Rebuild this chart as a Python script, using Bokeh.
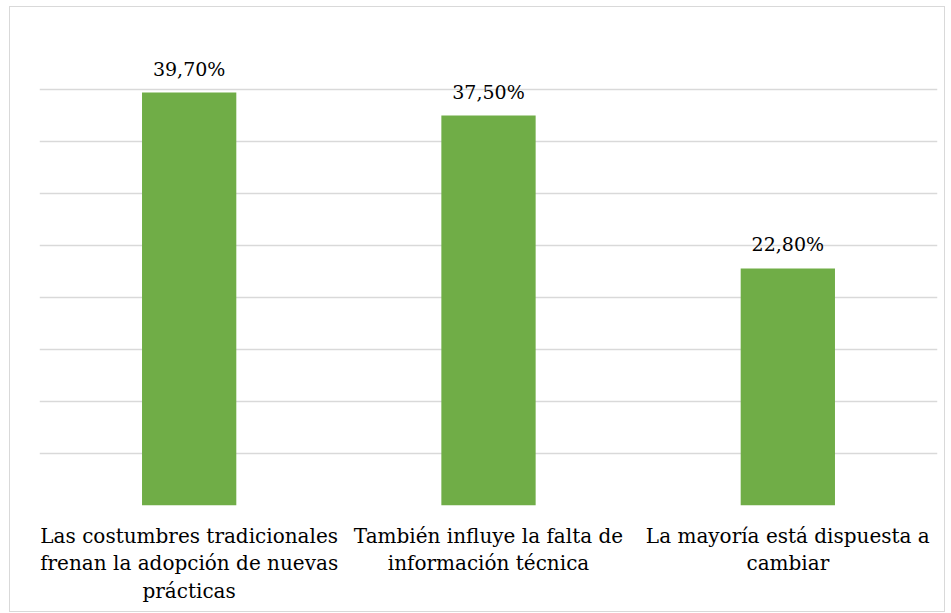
from bokeh.plotting import figure
from bokeh.models import ColumnDataSource, FixedTicker, Range1d, LabelSet
from bokeh.core.properties import value
from bokeh.embed import file_html
from bokeh.resources import INLINE

categories = [
    "Las costumbres tradicionales\nfrenan la adopción de nuevas\nprácticas",
    "También influye la falta de\ninformación técnica",
    "La mayoría está dispuesta a\ncambiar",
]
values = [39.7, 37.5, 22.8]
labels = ["39,70%", "37,50%", "22,80%"]
y_ticks = [0, 5, 10, 15, 20, 25, 30, 35, 40, 45]

FONT = "DejaVu Serif"

src = ColumnDataSource(dict(cat=categories, val=values, lab=labels))

p = figure(x_range=categories, y_range=Range1d(0, 45), width=936, height=606,
           output_backend="svg", toolbar_location=None,
           min_border_left=29, min_border_right=9, min_border_top=30, min_border_bottom=108)
p.styles = {"border": "1px solid #d9d9d9", "margin-left": "9px", "margin-top": "6px"}
p.outline_line_color = None
p.vbar(x="cat", top="val", width=0.315, source=src, fill_color="#70AD47", line_color=None)

p.add_layout(LabelSet(x="cat", y="val", text="lab", source=src, text_align="center",
                      text_baseline="bottom", y_offset=13, text_font=value(FONT),
                      text_font_size="19px", text_color="#000000"))

p.yaxis.visible = False
p.ygrid.ticker = FixedTicker(ticks=y_ticks)
p.ygrid.grid_line_color = "#d9d9d9"
p.ygrid.grid_line_width = 1.3
p.xgrid.grid_line_color = None
p.xaxis.axis_line_color = None
p.xaxis.major_tick_line_color = None
p.xaxis.minor_tick_line_color = None
p.xaxis.major_label_text_font = FONT
p.xaxis.major_label_text_font_size = "20px"
p.xaxis.major_label_text_color = "#000000"
p.xaxis.major_label_standoff = 12
p.xaxis.major_label_text_line_height = 1.16

open("out.html", "w").write(file_html(p, INLINE))
